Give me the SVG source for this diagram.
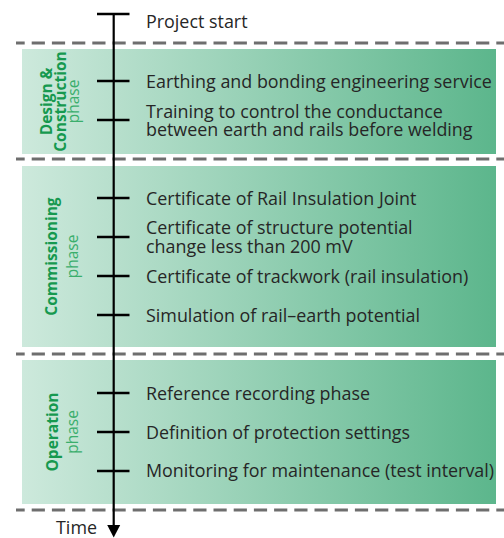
<svg xmlns="http://www.w3.org/2000/svg" width="504" height="538" viewBox="0 0 504 538">
  <defs>
    <linearGradient id="phaseFill" x1="0" y1="0" x2="1" y2="0">
      <stop offset="0" stop-color="#cde9dc"/>
      <stop offset="1" stop-color="#5cb68c"/>
    </linearGradient>
  </defs>
  <style>
    .panel { fill: url(#phaseFill); }
    .sep { stroke: #6e6e6e; stroke-width: 3; stroke-dasharray: 13.2 7; stroke-dashoffset: 4.5; fill: none; }
    .axis { stroke: #000; stroke-width: 2.2; fill: none; }
    .tick { stroke: #000; stroke-width: 2.4; fill: none; }
    .item { font-family: "Open Sans", "Noto Sans", sans-serif; font-size: 17.9px; fill: #262626; }
    .name { font-family: "Open Sans", "Noto Sans", sans-serif; font-size: 15.5px; font-weight: 700; fill: #16994f; text-anchor: middle; }
    .sub { font-family: "Open Sans", "Noto Sans", sans-serif; font-size: 15.5px; font-weight: 400; fill: #3aae6c; text-anchor: middle; }
  </style>

  <!-- phase panels -->
  <g id="design-construction">
    <rect class="panel" x="22" y="49" width="474" height="105"/>
    <g transform="translate(0 101.5) rotate(-90)">
      <text class="name" x="0" y="52">Design &amp;</text>
      <text class="name" x="0" y="65.5">Construction</text>
      <text class="sub" x="0" y="79">phase</text>
    </g>
  </g>
  <g id="commissioning">
    <rect class="panel" x="22" y="166" width="474" height="181"/>
    <g transform="translate(0 256.5) rotate(-90)">
      <text class="name" x="0" y="57">Commissioning</text>
      <text class="sub" x="0" y="78">phase</text>
    </g>
  </g>
  <g id="operation">
    <rect class="panel" x="22" y="360" width="474" height="144"/>
    <g transform="translate(0 432) rotate(-90)">
      <text class="name" x="0" y="58">Operation</text>
      <text class="sub" x="0" y="78">phase</text>
    </g>
  </g>

  <!-- phase boundaries -->
  <g id="separators">
    <line class="sep" x1="16" y1="43" x2="504" y2="43"/>
    <line class="sep" x1="16" y1="159" x2="504" y2="159"/>
    <line class="sep" x1="16" y1="354" x2="504" y2="354"/>
    <line class="sep" x1="16" y1="510" x2="504" y2="510"/>
  </g>

  <!-- time axis with milestone ticks -->
  <g id="connectors">
    <line class="axis" x1="113.7" y1="14" x2="113.7" y2="527"/>
    <polygon points="107.2,525 120.2,525 113.7,537.5" fill="#000"/>
    <line class="tick" x1="97" y1="14" x2="129.5" y2="14"/>
    <line class="tick" x1="97" y1="81" x2="129.5" y2="81"/>
    <line class="tick" x1="97" y1="120" x2="129.5" y2="120"/>
    <line class="tick" x1="97" y1="198" x2="129.5" y2="198"/>
    <line class="tick" x1="97" y1="237" x2="129.5" y2="237"/>
    <line class="tick" x1="97" y1="276" x2="129.5" y2="276"/>
    <line class="tick" x1="97" y1="315" x2="129.5" y2="315"/>
    <line class="tick" x1="97" y1="393" x2="129.5" y2="393"/>
    <line class="tick" x1="97" y1="432" x2="129.5" y2="432"/>
    <line class="tick" x1="97" y1="471" x2="129.5" y2="471"/>
  </g>

  <!-- milestone labels -->
  <g id="start"><text class="item" x="146" y="28">Project start</text></g>
  <g id="earthing"><text class="item" x="146" y="87.5">Earthing and bonding engineering service</text></g>
  <g id="training">
    <text class="item" x="146" y="117.5">Training to control the conductance<tspan x="146" dy="18.5">between earth and rails before welding</tspan></text>
  </g>
  <g id="rij"><text class="item" x="146" y="204.5">Certificate of Rail Insulation Joint</text></g>
  <g id="structure">
    <text class="item" x="146" y="234">Certificate of structure potential<tspan x="146" dy="18.5">change less than 200 mV</tspan></text>
  </g>
  <g id="trackwork"><text class="item" x="146" y="282.5">Certificate of trackwork (rail insulation)</text></g>
  <g id="simulation"><text class="item" x="146" y="321.5">Simulation of rail–earth potential</text></g>
  <g id="reference"><text class="item" x="146" y="399.5">Reference recording phase</text></g>
  <g id="protection"><text class="item" x="146" y="438.5">Definition of protection settings</text></g>
  <g id="monitoring"><text class="item" x="146" y="477">Monitoring for maintenance (test interval)</text></g>
  <g id="time"><text class="item" x="97" y="533.5" text-anchor="end">Time</text></g>
</svg>
